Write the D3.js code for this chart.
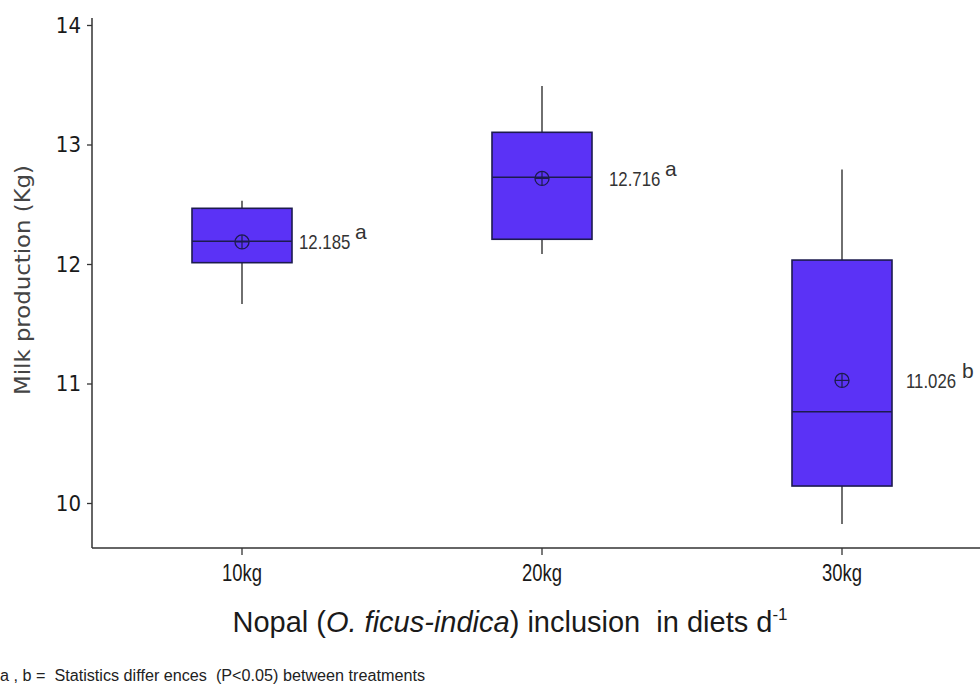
<!DOCTYPE html>
<html>
<head>
<meta charset="utf-8">
<script src="https://cdn.jsdelivr.net/npm/d3@7"></script>
<style>
  html, body { margin: 0; padding: 0; background: #fff; }
  svg { display: block; }
</style>
</head>
<body>
<svg id="chart" width="980" height="684"></svg>
<script>
// ---- data ----
const categories = ["10kg", "20kg", "30kg"];
const whiskerMin = [11.665, 12.084, 9.824];
const q1Values   = [12.011, 12.207, 10.142];
const medians    = [12.19, 12.726, 10.764];
const q3Values   = [12.466, 13.102, 12.033];
const whiskerMax = [12.53, 13.49, 12.79];
const means      = [12.185, 12.716, 11.026];
const meanLabels = ["12.185", "12.716", "11.026"];
const groupLetters = ["a", "a", "b"];
const yTicks = [10, 11, 12, 13, 14];

// ---- layout constants ----
const W = 980, H = 684;
const plotLeft = 92, plotTop = 18, plotBottom = 548;
const labelDx = [7, 17, 14];
const boxFill = "#5b32f6";
const boxStroke = "#1d1b4f";
const axisColor = "#333";

const svg = d3.select("#chart");

const x = d3.scaleBand().domain(categories).range([plotLeft, plotLeft + 900]).padding(0);
const y = d3.scaleLinear().domain([10, 14]).range([503, 25]);
const boxW = x.bandwidth() / 3;

const rows = categories.map((c, i) => ({
  c, min: whiskerMin[i], q1: q1Values[i], med: medians[i], q3: q3Values[i],
  max: whiskerMax[i], mean: means[i], label: meanLabels[i], letter: groupLetters[i], dx: labelDx[i]
}));

// axes
const yAxis = svg.append("g").attr("transform", `translate(${plotLeft},0)`)
  .call(d3.axisLeft(y).tickValues(yTicks).tickSize(5).tickPadding(6).tickFormat(d3.format("d")));
yAxis.select(".domain").remove();
yAxis.selectAll(".tick line").attr("stroke", axisColor).attr("stroke-width", 1.3);
yAxis.selectAll(".tick text").attr("fill", "#1a1a1a")
  .style("font-family", "'DejaVu Sans Condensed', 'DejaVu Sans', sans-serif").style("font-size", "22px");

svg.append("line").attr("x1", plotLeft).attr("x2", plotLeft).attr("y1", plotTop).attr("y2", plotBottom)
  .attr("stroke", axisColor).attr("stroke-width", 1.5);

const xAxis = svg.append("g").attr("transform", `translate(0,${plotBottom})`)
  .call(d3.axisBottom(x).tickSize(7).tickPadding(9));
xAxis.select(".domain").remove();
xAxis.selectAll(".tick line").attr("stroke", axisColor).attr("stroke-width", 1.3);
xAxis.selectAll(".tick text").attr("fill", "#1a1a1a")
  .style("font-family", "'Liberation Sans', Arial, sans-serif")
  .style("font-size", "24px")
  .attr("textLength", 40).attr("lengthAdjust", "spacingAndGlyphs");

svg.append("line").attr("x1", plotLeft).attr("x2", W).attr("y1", plotBottom).attr("y2", plotBottom)
  .attr("stroke", axisColor).attr("stroke-width", 1.5);

// boxes
const g = svg.append("g");
const cx = d => x(d.c) + x.bandwidth() / 2;

g.selectAll(".wTop").data(rows).join("line")
  .attr("x1", cx).attr("x2", cx).attr("y1", d => y(d.max)).attr("y2", d => y(d.q3))
  .attr("stroke", "#333").attr("stroke-width", 1.4);
g.selectAll(".wBot").data(rows).join("line")
  .attr("x1", cx).attr("x2", cx).attr("y1", d => y(d.q1)).attr("y2", d => y(d.min))
  .attr("stroke", "#333").attr("stroke-width", 1.4);

g.selectAll("rect.box").data(rows).join("rect").attr("class", "box")
  .attr("x", d => cx(d) - boxW / 2).attr("width", boxW)
  .attr("y", d => y(d.q3)).attr("height", d => y(d.q1) - y(d.q3))
  .attr("fill", boxFill).attr("stroke", boxStroke).attr("stroke-width", 1.6);

g.selectAll("line.med").data(rows).join("line").attr("class", "med")
  .attr("x1", d => cx(d) - boxW / 2).attr("x2", d => cx(d) + boxW / 2)
  .attr("y1", d => y(d.med)).attr("y2", d => y(d.med))
  .attr("stroke", boxStroke).attr("stroke-width", 1.6);

// mean symbols
const r = 7;
const mg = g.selectAll("g.mean").data(rows).join("g").attr("class", "mean")
  .attr("transform", d => `translate(${cx(d)},${y(d.mean)})`);
mg.append("circle").attr("r", r).attr("fill", "none").attr("stroke", boxStroke).attr("stroke-width", 1.3);
mg.append("line").attr("x1", -r).attr("x2", r).attr("stroke", boxStroke).attr("stroke-width", 1.2);
mg.append("line").attr("y1", -r).attr("y2", r).attr("stroke", boxStroke).attr("stroke-width", 1.2);

// mean labels (number, horizontally condensed via scale, + superscript group letter)
const numScale = 0.84;
const numW = 51;
g.selectAll("g.ml").data(rows).join("g").attr("class", "ml")
  .attr("transform", d => `translate(${cx(d) + boxW / 2 + d.dx},${y(d.mean)}) scale(${numScale},1)`)
  .append("text").attr("dy", "0.36em")
  .attr("fill", "#333")
  .style("font-family", "'Liberation Sans', Arial, sans-serif").style("font-size", "20px")
  .text(d => d.label);
g.selectAll("text.gl").data(rows).join("text").attr("class", "gl")
  .attr("x", d => cx(d) + boxW / 2 + d.dx + numW + 5).attr("y", d => y(d.mean)).attr("dy", "-0.12em")
  .attr("fill", "#333")
  .style("font-family", "'Liberation Sans', Arial, sans-serif").style("font-size", "21px")
  .text(d => d.letter);

// y title
svg.append("text").attr("transform", "translate(30,280) rotate(-90)").attr("text-anchor", "middle")
  .attr("fill", "#444").style("font-family", "'DejaVu Sans', sans-serif").style("font-size", "21px")
  .attr("textLength", 230).attr("lengthAdjust", "spacingAndGlyphs")
  .text("Milk production (Kg)");

// x title
const xt = svg.append("text").attr("x", 510).attr("y", 632).attr("text-anchor", "middle")
  .attr("fill", "#1a1a1a").style("font-family", "'Liberation Sans', Arial, sans-serif").style("font-size", "29px")
  .style("white-space", "pre");
xt.append("tspan").text("Nopal (");
xt.append("tspan").style("font-style", "italic").text("O. ficus-indica");
xt.append("tspan").text(") inclusion  in diets d");
xt.append("tspan").attr("dy", -12).style("font-size", "17px").text("-1");

// footnote
svg.append("text").attr("x", 0).attr("y", 681).attr("fill", "#222")
  .style("font-family", "'Liberation Sans', Arial, sans-serif").style("font-size", "16px")
  .style("white-space", "pre")
  .attr("textLength", 425).attr("lengthAdjust", "spacingAndGlyphs")
  .text("a , b =  Statistics differ ences  (P<0.05) between treatments");
</script>
</body>
</html>
